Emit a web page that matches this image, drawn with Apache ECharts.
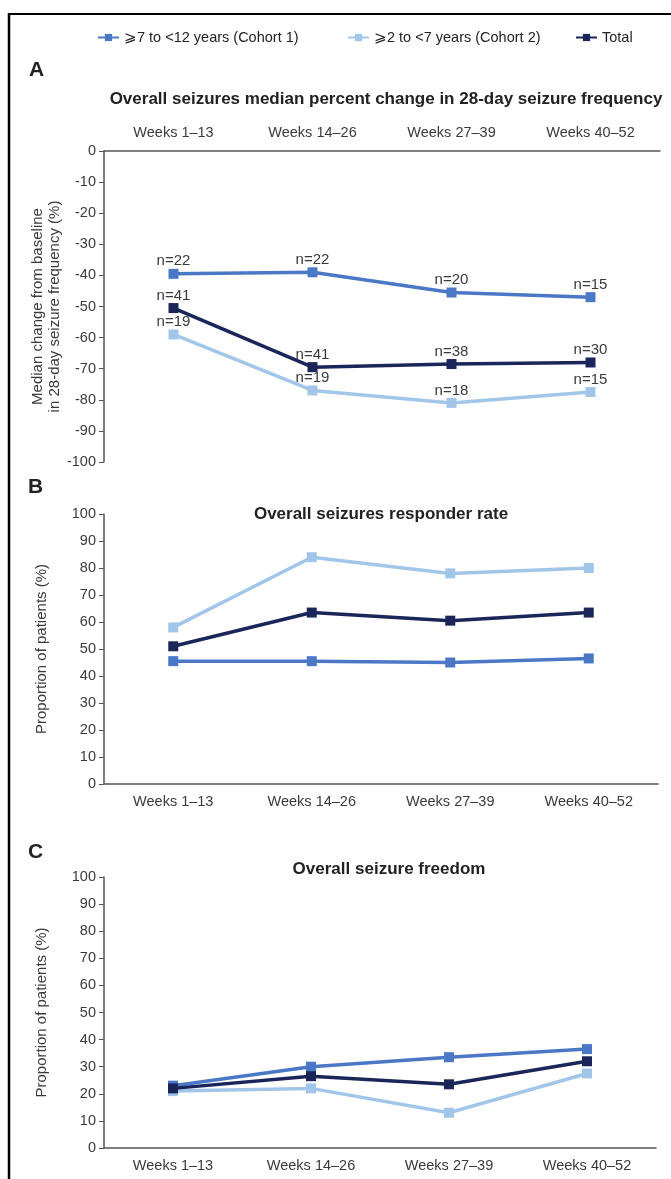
<!DOCTYPE html>
<html>
<head>
<meta charset="utf-8">
<script src="https://cdn.jsdelivr.net/npm/echarts@6/dist/echarts.min.js"></script>
<style>
  html, body { margin: 0; padding: 0; background: #fff; }
  #chart { width: 671px; height: 1179px; }
</style>
</head>
<body>
<div id="chart"></div>
<script>
// categories
var weeks = ['Weeks 1–13', 'Weeks 14–26', 'Weeks 27–39', 'Weeks 40–52'];
var seriesNames = ['⩾7 to <12 years (Cohort 1)', '⩾2 to <7 years (Cohort 2)', 'Total'];

// A: median % change in 28-day seizure frequency
var changeCohort1 = [-39.5, -39, -45.5, -47];
var changeCohort2 = [-59, -77, -81, -77.5];
var changeTotal = [-50.5, -69.5, -68.5, -68];
var nCohort1 = [22, 22, 20, 15];
var nCohort2 = [19, 19, 18, 15];
var nTotal = [41, 41, 38, 30];

// B: responder rate (%)
var respCohort1 = [45.5, 45.5, 45, 46.5];
var respCohort2 = [58, 84, 78, 80];
var respTotal = [51, 63.5, 60.5, 63.5];

// C: seizure freedom (%)
var freeCohort1 = [23, 30, 33.5, 36.5];
var freeCohort2 = [21, 22, 13, 27.5];
var freeTotal = [22, 26.5, 23.5, 32];

var colors = ['#4a78c6', '#a2c6ea', '#1a2659'];
var txt = '#3a3a3a';
var font = 'Liberation Sans, Arial, sans-serif';

function xAx(gi, pos) {
  return {
    type: 'category', gridIndex: gi, data: weeks, position: pos,
    axisLine: { lineStyle: { color: '#555', width: 1.5 } },
    axisTick: { show: false },
    axisLabel: { color: txt, fontSize: 14.5, fontFamily: font, margin: pos === 'top' ? 11 : 10 }
  };
}
function yAx(gi, min, max, name, gap) {
  return {
    type: 'value', gridIndex: gi, min: min, max: max, interval: 10,
    name: name, nameLocation: 'middle', nameGap: gap, nameRotate: 90,
    nameMoveOverlap: false,
    nameTextStyle: { color: txt, fontSize: 15, fontFamily: font, lineHeight: 17 },
    splitLine: { show: false },
    axisLine: { show: true, lineStyle: { color: '#555', width: 1.5 } },
    axisTick: { show: true, length: 5, lineStyle: { color: '#555' } },
    axisLabel: { color: txt, fontSize: 14.5, fontFamily: font, margin: 8 }
  };
}
function ser(name, gi, data, ci, nArr) {
  var s = {
    name: name, type: 'line', xAxisIndex: gi, yAxisIndex: gi, data: data,
    symbol: 'rect', symbolSize: 10,
    lineStyle: { color: colors[ci], width: 3.5 },
    itemStyle: { color: colors[ci] },
    z: ci === 2 ? 5 : 3
  };
  if (nArr) {
    s.label = {
      show: true, position: 'top', distance: 0,
      color: txt, fontSize: 15, fontFamily: font,
      formatter: function (p) { return 'n=' + nArr[p.dataIndex]; }
    };
  }
  return s;
}
function leg(i, x) {
  return {
    data: [seriesNames[i]], top: 25, left: x,
    itemWidth: 21, itemHeight: 9, itemGap: 4,
    textStyle: { color: '#222', fontSize: 14.5, fontFamily: font }
  };
}

var chart = echarts.init(document.getElementById('chart'));
chart.setOption({
  backgroundColor: '#fff',
  animation: false,
  legend: [leg(0, 92), leg(1, 342), leg(2, 570)],
  title: [
    { text: 'Overall seizures median percent change in 28-day seizure frequency', left: 381, top: 86, textAlign: 'center',
      textStyle: { fontSize: 17, fontWeight: 'bold', color: '#222', fontFamily: font } },
    { text: 'Overall seizures responder rate', left: 376, top: 501, textAlign: 'center',
      textStyle: { fontSize: 17, fontWeight: 'bold', color: '#222', fontFamily: font } },
    { text: 'Overall seizure freedom', left: 384, top: 856, textAlign: 'center',
      textStyle: { fontSize: 17, fontWeight: 'bold', color: '#222', fontFamily: font } }
  ],
  graphic: [
    { type: 'line', shape: { x1: 9, y1: 14, x2: 671, y2: 14 }, style: { stroke: '#000', lineWidth: 2 } },
    { type: 'line', shape: { x1: 9, y1: 13, x2: 9, y2: 1179 }, style: { stroke: '#000', lineWidth: 2.5 } },
    { type: 'text', left: 29, top: 60, style: { text: 'A', fontSize: 21, fontWeight: 'bold', fill: '#222', fontFamily: font } },
    { type: 'text', left: 28, top: 477, style: { text: 'B', fontSize: 21, fontWeight: 'bold', fill: '#222', fontFamily: font } },
    { type: 'text', left: 28, top: 842, style: { text: 'C', fontSize: 21, fontWeight: 'bold', fill: '#222', fontFamily: font } }
  ],
  grid: [
    { left: 104, top: 151, width: 556, height: 311 },
    { left: 104, top: 514, width: 554, height: 270 },
    { left: 104, top: 877, width: 552, height: 271 }
  ],
  xAxis: [xAx(0, 'top'), xAx(1, 'bottom'), xAx(2, 'bottom')],
  yAxis: [
    yAx(0, -100, 0, 'Median change from baseline\nin 28-day seizure frequency (%)', 41),
    yAx(1, 0, 100, 'Proportion of patients (%)', 54),
    yAx(2, 0, 100, 'Proportion of patients (%)', 54)
  ],
  series: [
    ser(seriesNames[0], 0, changeCohort1, 0, nCohort1),
    ser(seriesNames[1], 0, changeCohort2, 1, nCohort2),
    ser(seriesNames[2], 0, changeTotal, 2, nTotal),
    ser(seriesNames[0], 1, respCohort1, 0),
    ser(seriesNames[1], 1, respCohort2, 1),
    ser(seriesNames[2], 1, respTotal, 2),
    ser(seriesNames[0], 2, freeCohort1, 0),
    ser(seriesNames[1], 2, freeCohort2, 1),
    ser(seriesNames[2], 2, freeTotal, 2)
  ]
});
</script>
</body>
</html>
